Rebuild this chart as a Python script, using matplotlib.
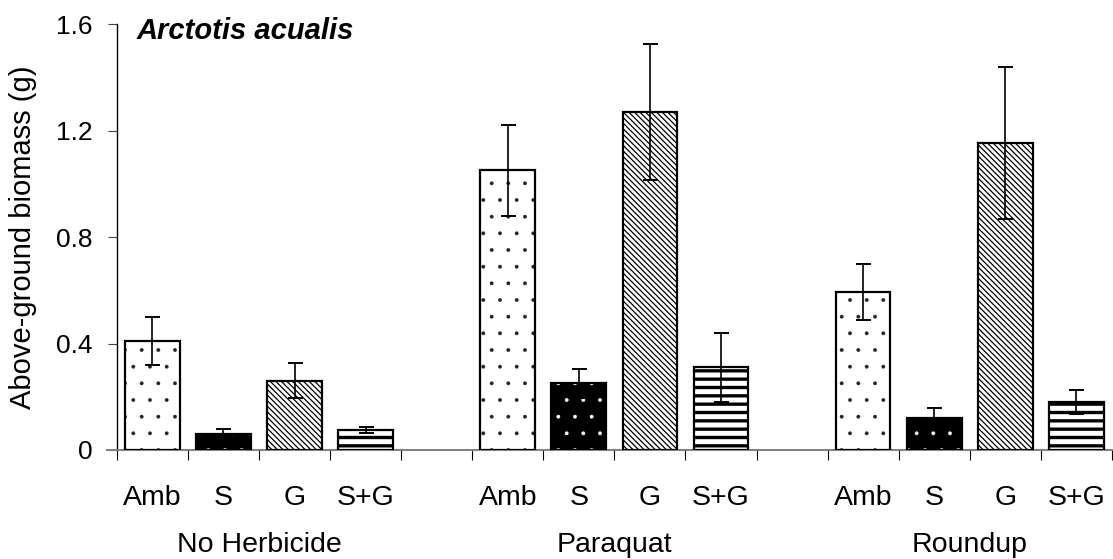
import numpy as np
import matplotlib
matplotlib.use("Agg")
import matplotlib.pyplot as plt
from matplotlib import transforms

plt.rcParams['font.family'] = ['Liberation Sans', 'DejaVu Sans']

# biomass means and standard errors, per herbicide group
groups = ['No Herbicide', 'Paraquat', 'Roundup']
treatments = ['Amb', 'S', 'G', 'S+G']
means = {
    'No Herbicide': [0.41, 0.06, 0.26, 0.075],
    'Paraquat': [1.05, 0.25, 1.27, 0.31],
    'Roundup': [0.595, 0.122, 1.152, 0.181],
}
errors = {
    'No Herbicide': [0.09, 0.02, 0.065, 0.01],
    'Paraquat': [0.17, 0.055, 0.255, 0.13],
    'Roundup': [0.105, 0.037, 0.285, 0.045],
}
y_ticks = [0, 0.4, 0.8, 1.2, 1.6]
y_tick_labels = ['0', '0.4', '0.8', '1.2', '1.6']

# fill / hatch style per treatment: (face, hatch colour, hatch, hatch linewidth)
styles = {
    'Amb': ('white', '#222222', '.', 0.3),
    'S': ('black', 'white', '.', 0.3),
    'G': ('white', 'black', '\\' * 6, 0.9),
    'S+G': ('white', 'black', '--', 2.4),
}

fig = plt.figure(figsize=(11.13, 5.59), dpi=100)
ax = fig.add_axes([0.105, 0.195, 0.894, 0.762])

width = 0.77
positions = []
labels = []
for gi, g in enumerate(groups):
    for ti, t in enumerate(treatments):
        x = gi * 5 + ti
        positions.append(x)
        labels.append(t)
        face, hcol, hatch, hlw = styles[t]
        with plt.rc_context({'hatch.linewidth': hlw}):
            ax.bar(x, means[g][ti], width=width, color=face, edgecolor=hcol,
                   hatch=hatch, linewidth=0, zorder=2)
        ax.bar(x, means[g][ti], width=width, fill=False, edgecolor='black',
               linewidth=1.6, zorder=3)
        ax.errorbar(x, means[g][ti], yerr=errors[g][ti], fmt='none',
                    ecolor='black', elinewidth=1.2, capsize=5.4, capthick=1.4,
                    zorder=4)

ax.set_xlim(-0.5, 13.5)
ax.set_ylim(0, 1.6)
ax.set_yticks(y_ticks)
ax.set_yticklabels(y_tick_labels, fontsize=19)
ax.set_xticks(positions)
ax.set_xticklabels(labels, fontsize=20.5)
ax.set_xticks(np.arange(-0.5, 14, 1), minor=True)
ax.tick_params(axis='x', which='major', length=0, pad=25)
ax.tick_params(axis='x', which='minor', length=7, width=0.8, color='black')
ax.tick_params(axis='y', length=6.5, width=0.8, color='#444444', pad=11)

for side in ('top', 'right'):
    ax.spines[side].set_visible(False)
ax.spines['left'].set_linewidth(1.0)
ax.spines['bottom'].set_color('#808080')
ax.spines['bottom'].set_linewidth(1.4)
ax.spines['bottom'].set_bounds(-0.64, 13.5)

trans = transforms.blended_transform_factory(ax.transData, ax.transAxes)
for gi, g in enumerate(groups):
    ax.text(gi * 5 + 1.5, -0.239, g, transform=trans, ha='center',
            va='baseline', fontsize=20.5)

ax.set_ylabel('Above-ground biomass (g)', fontsize=21)
ax.yaxis.set_label_coords(-0.080, 0.5)
ax.text(0.020, 0.965, 'Arctotis acualis', transform=ax.transAxes, ha='left',
        va='baseline', fontsize=21, fontweight='bold', fontstyle='italic')

fig.savefig('out.png', dpi=100)
